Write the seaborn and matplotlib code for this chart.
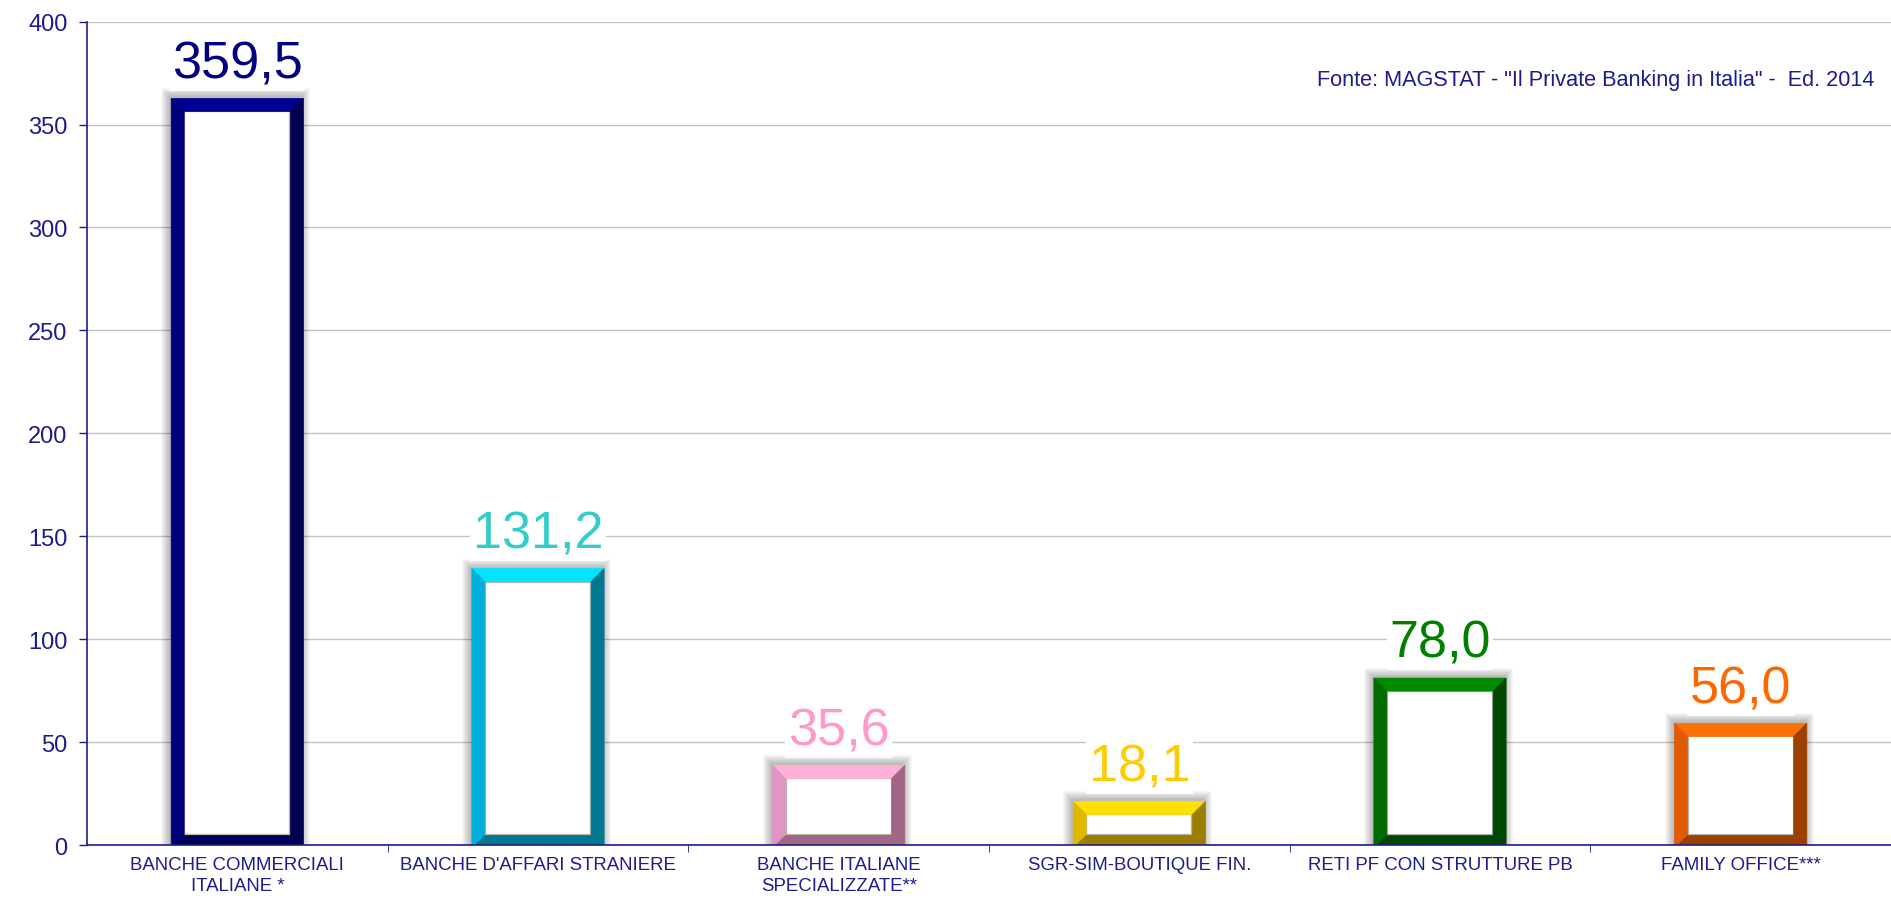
#!/usr/bin/env python3

import matplotlib
import pandas as pd
import seaborn as sns
from matplotlib import pyplot as plt
from matplotlib.patches import Polygon, Rectangle

matplotlib.use("Agg")

categories = [
    "BANCHE COMMERCIALI\nITALIANE *",
    "BANCHE D'AFFARI STRANIERE",
    "BANCHE ITALIANE\nSPECIALIZZATE**",
    "SGR-SIM-BOUTIQUE FIN.",
    "RETI PF CON STRUTTURE PB",
    "FAMILY OFFICE***",
]
values = [359.5, 131.2, 35.6, 18.1, 78.0, 56.0]
value_labels = ["359,5", "131,2", "35,6", "18,1", "78,0", "56,0"]
label_colors = ["#000080", "#33cccc", "#ff99cc", "#ffcc00", "#008000", "#ff6600"]
# frame shades: top, left, right, bottom
frame_colors = [
    ("#000090", "#00007a", "#000050", "#000055"),
    ("#00e4ff", "#00b0dc", "#007890", "#00788f"),
    ("#ffb0d8", "#e096c4", "#a06684", "#a06684"),
    ("#ffe000", "#e0b800", "#9c7e00", "#9c7e00"),
    ("#008a00", "#006c00", "#004800", "#004800"),
    ("#ff7000", "#e05a00", "#9c4000", "#9c4000"),
]
y_ticks = [0, 50, 100, 150, 200, 250, 300, 350, 400]
source = "Fonte: MAGSTAT - \"Il Private Banking in Italia\" -  Ed. 2014"

axis_color = "#1c1c8c"
font_family = ["Liberation Sans", "DejaVu Sans"]


def draw_frame(ax, patch, colors, thick_px):
    """
    Draws a bevelled frame on top of a seaborn bar patch
    """
    bbox = ax.get_window_extent()
    x0, x1 = ax.get_xlim()
    y0, y1 = ax.get_ylim()
    px_x = (x1 - x0) / bbox.width
    px_y = (y1 - y0) / bbox.height
    tx = thick_px * px_x
    ty = thick_px * px_y

    left = patch.get_x()
    right = left + patch.get_width()
    bottom = -ty / 4
    top = patch.get_height() + ty / 2

    # soft drop shadow, a bit towards the upper left
    steps = 9
    for i in range(steps):
        grow = steps - i
        ax.add_patch(Rectangle(
            (left - (grow + 1) * px_x, bottom),
            (right - left) + (2 * grow - 1) * px_x,
            top - bottom + (grow + 1) * px_y,
            facecolor="#000000", edgecolor="none", alpha=0.03, zorder=2))

    il, ir = left + tx, right - tx
    ib, it = bottom + ty, top - ty
    ax.add_patch(Rectangle((il, ib), ir - il, it - ib, facecolor="white",
                           edgecolor="#b4b4b4", linewidth=1.6, zorder=3))
    top_c, left_c, right_c, bottom_c = colors
    sides = [
        ([(left, top), (right, top), (ir, it), (il, it)], top_c),
        ([(left, bottom), (left, top), (il, it), (il, ib)], left_c),
        ([(right, bottom), (right, top), (ir, it), (ir, ib)], right_c),
        ([(left, bottom), (right, bottom), (ir, ib), (il, ib)], bottom_c),
    ]
    for pts, col in sides:
        ax.add_patch(Polygon(pts, closed=True, facecolor=col,
                             edgecolor=col, linewidth=0.5, zorder=4))


def plot_data(df):
    fig = plt.figure(figsize=(18.91, 9.04), dpi=100)
    ax = fig.add_axes([0.046, 0.064, 0.954, 0.911])

    sns.barplot(x="category", y="value", data=df, color="white",
                width=0.44, linewidth=0, saturation=1, ax=ax, zorder=1)

    ax.set_xlim(-0.5, 5.5)
    ax.set_ylim(0, 400)
    ax.set_yticks(y_ticks)
    ax.set_xlabel("")
    ax.set_ylabel("")

    for spine in ["top", "right"]:
        ax.spines[spine].set_visible(False)
    for spine in ["left", "bottom"]:
        ax.spines[spine].set_color(axis_color)
        ax.spines[spine].set_linewidth(1.2)
        ax.spines[spine].set_zorder(6)

    ax.grid(axis="y", color="#c4c4c4", linewidth=1.0, zorder=0)
    ax.set_axisbelow(True)

    ax.tick_params(axis="y", colors=axis_color, labelsize=17, length=6,
                   width=1, pad=8)
    ax.tick_params(axis="x", colors=axis_color, labelsize=13.4, length=0,
                   pad=8)
    ax.set_xticks([i - 0.5 for i in range(1, 6)], minor=True)
    ax.tick_params(axis="x", which="minor", length=5, color=axis_color)
    for lbl in ax.get_xticklabels() + ax.get_yticklabels():
        lbl.set_family(font_family)
    for lbl in ax.get_xticklabels():
        lbl.set_linespacing(1.25)

    fig.canvas.draw()
    for patch, colors in zip(ax.patches[:len(values)], frame_colors):
        draw_frame(ax, patch, colors, 13)

    for i, (val, txt, col) in enumerate(zip(values, value_labels, label_colors)):
        ax.annotate(txt, xy=(i, val), xytext=(0, 20),
                    textcoords="offset points", ha="center", va="baseline",
                    fontsize=37.5, color=col, family=font_family, zorder=7,
                    bbox=dict(facecolor="white", edgecolor="none", pad=2))

    ax.text(0.991, 0.93, source, transform=ax.transAxes, ha="right",
            va="center", fontsize=15.6, color=axis_color, family=font_family)

    fig.savefig("out.png", dpi=100)


def main():
    df = pd.DataFrame({"category": categories, "value": values})
    plot_data(df)


if __name__ == "__main__":
    main()
